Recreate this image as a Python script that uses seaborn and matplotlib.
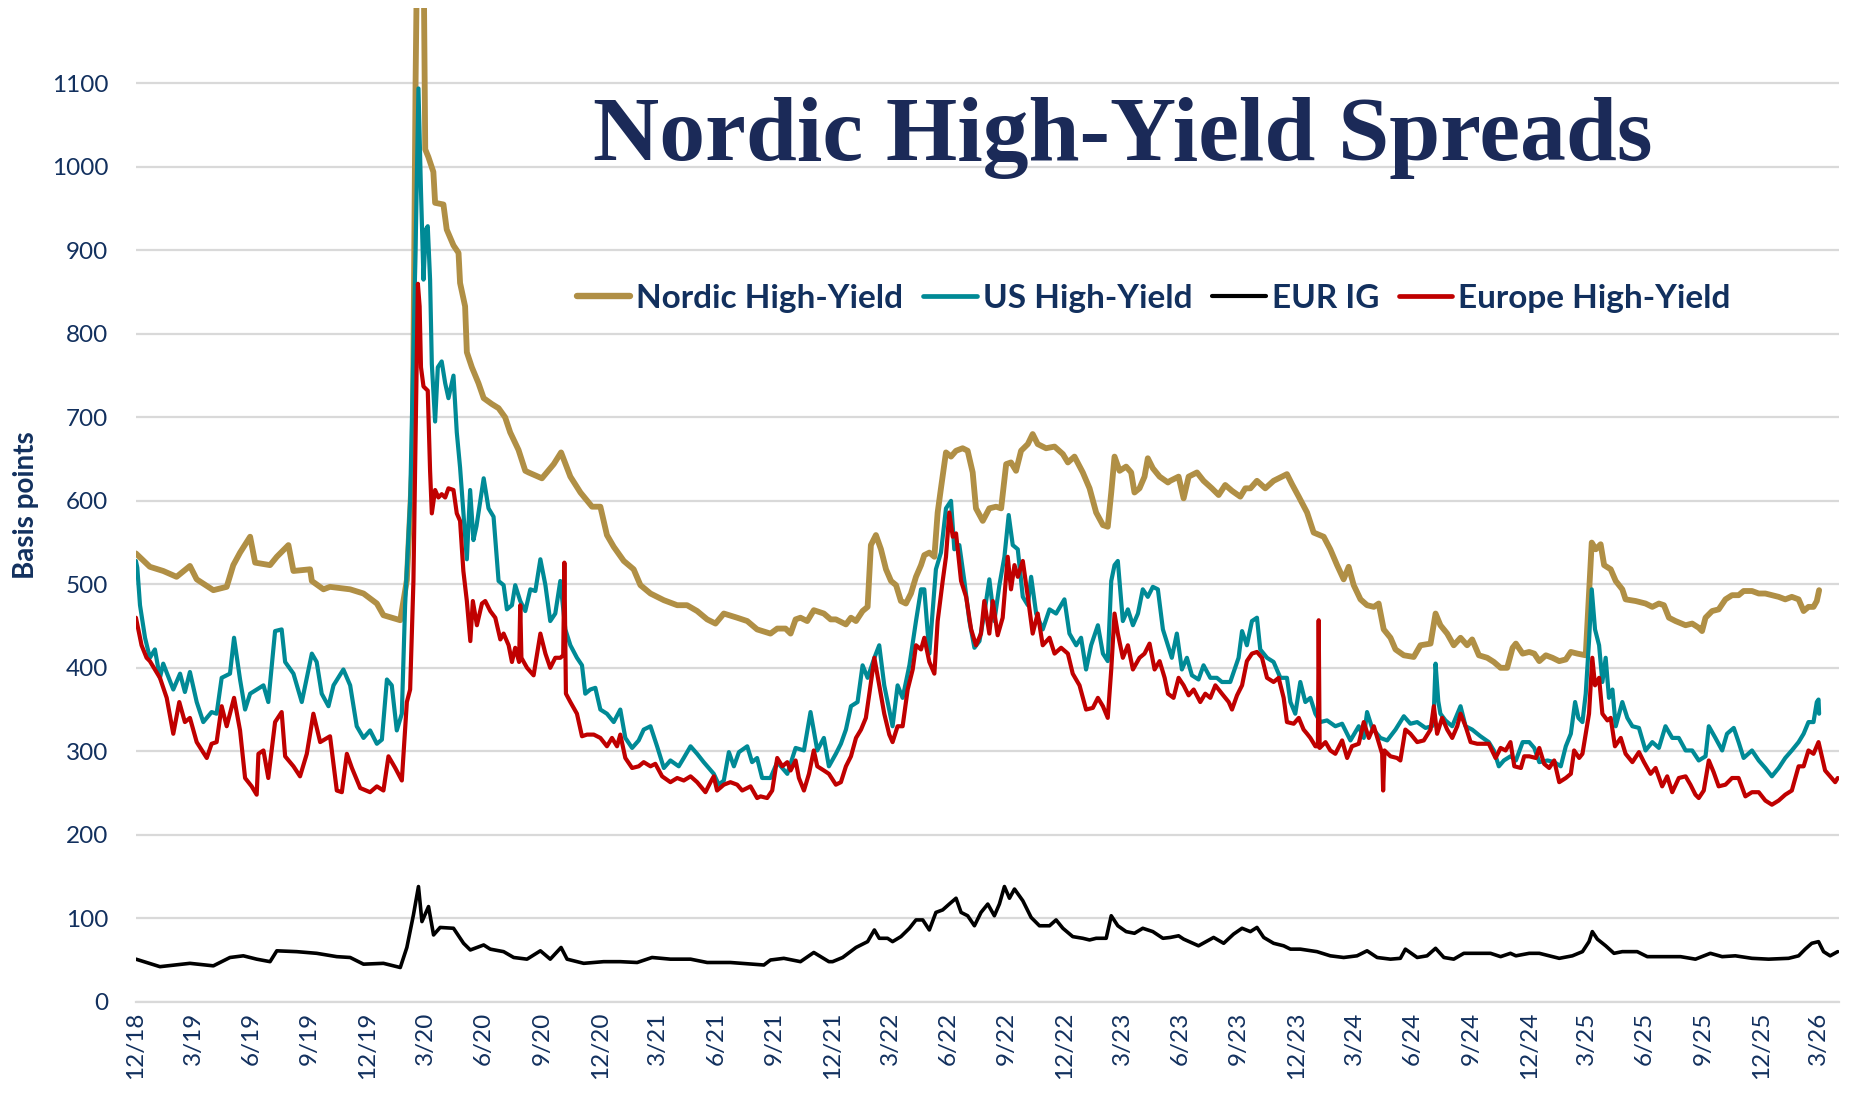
import numpy as np
import pandas as pd
import matplotlib
matplotlib.use("Agg")
import matplotlib.pyplot as plt
from matplotlib.lines import Line2D
import seaborn as sns

# ---------------------------------------------------------------
# Data: (months after 31 Dec 2018, basis points)
# ---------------------------------------------------------------
nordic_hy = [
    (0.0, 537), (0.72, 521), (1.41, 516), (2.10, 509), (2.79, 522), (3.14, 506), (4.0, 493),
    (4.69, 497), (5.03, 523), (5.38, 538), (5.90, 557), (6.16, 526), (6.93, 523), (7.28, 533),
    (7.88, 547), (8.14, 516), (9.0, 518), (9.09, 504), (9.69, 494), (10.03, 497), (11.07, 494),
    (11.76, 489), (12.45, 477), (12.79, 463), (13.66, 457), (14.0, 505), (14.30, 650),
    (14.45, 1100), (14.55, 1300), (14.85, 1300), (14.95, 1021), (15.11, 1012), (15.37, 994),
    (15.46, 957), (15.89, 955), (16.06, 925), (16.41, 906), (16.67, 897), (16.75, 861),
    (17.01, 833), (17.10, 778), (17.36, 760), (17.70, 741), (17.97, 723), (18.39, 716),
    (18.74, 711), (19.08, 700), (19.34, 682), (19.77, 661), (20.12, 636), (20.29, 634),
    (20.98, 627), (21.59, 644), (21.97, 658), (22.45, 629), (22.97, 610), (23.57, 593),
    (24.0, 593), (24.34, 559), (24.69, 545), (25.21, 528), (25.72, 518), (26.07, 499),
    (26.59, 489), (27.28, 481), (27.97, 475), (28.48, 475), (29.0, 468), (29.52, 458),
    (29.95, 453), (30.38, 465), (31.07, 460), (31.59, 456), (32.10, 446), (32.79, 441),
    (33.14, 447), (33.57, 447), (33.83, 441), (34.09, 458), (34.34, 460), (34.69, 456),
    (35.03, 469), (35.55, 465), (35.90, 458), (36.17, 458), (36.69, 452), (36.95, 460),
    (37.21, 456), (37.55, 468), (37.81, 473), (37.98, 547), (38.24, 559), (38.50, 542),
    (38.76, 518), (39.02, 504), (39.28, 499), (39.53, 480), (39.79, 477), (40.05, 489),
    (40.31, 509), (40.57, 523), (40.74, 535), (41.0, 538), (41.26, 533), (41.43, 586),
    (41.60, 615), (41.86, 658), (42.12, 653), (42.38, 660), (42.72, 663), (42.98, 660),
    (43.24, 634), (43.41, 591), (43.76, 576), (44.10, 591), (44.45, 593), (44.71, 591),
    (44.97, 644), (45.22, 646), (45.48, 636), (45.74, 660), (46.09, 668), (46.34, 680),
    (46.60, 668), (47.03, 663), (47.47, 665), (47.90, 656), (48.16, 646), (48.50, 653),
    (48.93, 634), (49.28, 615), (49.62, 586), (49.97, 571), (50.22, 569), (50.40, 610),
    (50.57, 653), (50.83, 636), (51.17, 641), (51.43, 634), (51.60, 610), (51.86, 615),
    (52.12, 629), (52.29, 651), (52.55, 639), (52.90, 629), (53.33, 622), (53.45, 624),
    (53.88, 629), (54.14, 603), (54.40, 629), (54.83, 634), (55.17, 624), (55.60, 615),
    (55.95, 607), (56.29, 619), (56.64, 612), (57.07, 605), (57.33, 615), (57.59, 615),
    (57.93, 624), (58.36, 615), (58.79, 624), (59.22, 629), (59.48, 632), (59.74, 620),
    (60.09, 605), (60.52, 586), (60.86, 562), (61.38, 557), (61.72, 542), (62.07, 523),
    (62.41, 506), (62.67, 521), (62.93, 499), (63.28, 482), (63.62, 475), (63.97, 473),
    (64.22, 477), (64.48, 446), (64.83, 436), (65.09, 422), (65.52, 415), (66.03, 413),
    (66.38, 427), (66.90, 429), (67.16, 465), (67.41, 451), (67.76, 441), (68.10, 427),
    (68.45, 436), (68.79, 427), (69.05, 434), (69.40, 415), (69.83, 412), (70.17, 407),
    (70.52, 400), (70.86, 400), (71.14, 424), (71.31, 429), (71.66, 417), (72.0, 419),
    (72.26, 417), (72.52, 408), (72.86, 415), (73.20, 412), (73.55, 408), (73.89, 410),
    (74.15, 419), (74.49, 417), (74.92, 415), (75.06, 475), (75.23, 550), (75.44, 542),
    (75.69, 548), (75.87, 523), (76.21, 518), (76.47, 504), (76.81, 494), (76.98, 482),
    (77.50, 480), (78.01, 477), (78.36, 473), (78.70, 477), (78.96, 475), (79.22, 460),
    (79.56, 456), (80.08, 451), (80.42, 453), (80.76, 448), (80.93, 444), (81.11, 460),
    (81.45, 468), (81.79, 470), (82.14, 482), (82.48, 487), (82.82, 487), (83.08, 492),
    (83.51, 492), (83.86, 489), (84.20, 489), (84.54, 487), (84.89, 485), (85.23, 482),
    (85.57, 485), (85.92, 482), (86.18, 468), (86.43, 473), (86.69, 473), (86.86, 480),
    (86.98, 493),
]

us_hy = [
    (0.0, 528), (0.07, 520), (0.21, 475), (0.47, 436), (0.72, 412), (0.98, 422), (1.24, 388),
    (1.41, 405), (1.93, 374), (2.28, 393), (2.53, 371), (2.79, 395), (3.14, 359), (3.48, 335),
    (3.91, 347), (4.17, 345), (4.43, 388), (4.86, 393), (5.07, 436), (5.38, 386), (5.64, 350),
    (5.90, 369), (6.59, 379), (6.84, 359), (7.19, 444), (7.53, 446), (7.71, 407), (8.14, 393),
    (8.57, 359), (9.09, 417), (9.34, 407), (9.60, 369), (9.95, 354), (10.21, 379), (10.72, 398),
    (11.07, 379), (11.41, 330), (11.76, 316), (12.10, 325), (12.45, 309), (12.71, 314),
    (12.97, 386), (13.22, 379), (13.48, 325), (13.74, 345), (13.91, 475), (14.17, 600),
    (14.45, 900), (14.60, 1094), (14.73, 971), (14.86, 865), (14.98, 925), (15.08, 929),
    (15.20, 865), (15.29, 764), (15.46, 695), (15.60, 760), (15.80, 767), (15.98, 741),
    (16.15, 723), (16.41, 750), (16.58, 682), (16.75, 640), (17.10, 530), (17.27, 613),
    (17.44, 553), (17.60, 570), (17.97, 627), (18.22, 591), (18.48, 581), (18.74, 504),
    (19.0, 499), (19.17, 470), (19.43, 475), (19.60, 499), (19.86, 480), (20.12, 468),
    (20.38, 494), (20.64, 492), (20.90, 530), (21.16, 499), (21.41, 456), (21.67, 465),
    (21.93, 504), (22.19, 446), (22.45, 427), (22.79, 412), (23.05, 403), (23.22, 369),
    (23.48, 374), (23.74, 376), (24.0, 350), (24.34, 345), (24.69, 335), (25.03, 350),
    (25.29, 316), (25.64, 304), (25.98, 313), (26.24, 326), (26.59, 330), (26.93, 306),
    (27.28, 280), (27.62, 289), (28.05, 282), (28.31, 292), (28.66, 306), (29.0, 297),
    (29.34, 287), (29.86, 273), (30.12, 260), (30.38, 265), (30.64, 299), (30.90, 282),
    (31.16, 299), (31.59, 306), (31.84, 287), (32.10, 292), (32.36, 268), (32.79, 268),
    (33.14, 287), (33.66, 273), (34.09, 304), (34.52, 301), (34.86, 347), (35.21, 301),
    (35.55, 316), (35.81, 282), (36.17, 297), (36.43, 309), (36.69, 326), (36.95, 354),
    (37.29, 359), (37.55, 403), (37.81, 388), (38.16, 412), (38.41, 427), (38.67, 379),
    (39.10, 330), (39.36, 379), (39.62, 364), (39.97, 403), (40.31, 456), (40.57, 494),
    (40.74, 494), (41.0, 417), (41.34, 518), (41.60, 538), (41.86, 591), (42.12, 600),
    (42.29, 542), (42.55, 547), (42.81, 504), (43.07, 456), (43.33, 424), (43.59, 432),
    (43.84, 465), (44.10, 506), (44.36, 456), (44.62, 499), (44.88, 533), (45.10, 583),
    (45.31, 547), (45.57, 542), (45.83, 485), (46.09, 475), (46.26, 509), (46.52, 465),
    (46.86, 446), (47.21, 470), (47.55, 465), (47.98, 482), (48.24, 441), (48.59, 427),
    (48.84, 436), (49.10, 398), (49.36, 427), (49.71, 451), (49.97, 417), (50.22, 408),
    (50.40, 504), (50.57, 523), (50.74, 528), (51.0, 456), (51.26, 470), (51.52, 451),
    (51.78, 465), (52.03, 494), (52.29, 485), (52.55, 497), (52.81, 494), (53.07, 446),
    (53.33, 427), (53.53, 412), (53.79, 441), (54.05, 398), (54.31, 412), (54.57, 391),
    (54.91, 386), (55.17, 403), (55.52, 388), (55.86, 388), (56.12, 383), (56.55, 383),
    (56.98, 412), (57.16, 444), (57.41, 427), (57.67, 456), (57.93, 460), (58.10, 422),
    (58.45, 412), (58.79, 407), (59.14, 388), (59.48, 388), (59.66, 359), (59.91, 345),
    (60.17, 383), (60.43, 359), (60.69, 364), (60.95, 345), (61.21, 335), (61.55, 337),
    (61.98, 330), (62.33, 333), (62.76, 313), (63.19, 330), (63.45, 316), (63.62, 347),
    (63.88, 328), (64.31, 316), (64.66, 313), (65.09, 326), (65.52, 342), (65.86, 333),
    (66.21, 335), (66.64, 328), (66.98, 330), (67.05, 335), (67.16, 405), (67.30, 360),
    (67.41, 345), (67.67, 337), (68.02, 330), (68.45, 354), (68.71, 330), (69.05, 326),
    (69.48, 318), (69.91, 311), (70.17, 301), (70.43, 282), (70.69, 289), (71.03, 294),
    (71.31, 289), (71.66, 311), (72.0, 311), (72.26, 304), (72.52, 287), (72.95, 289),
    (73.29, 287), (73.63, 282), (73.89, 306), (74.15, 321), (74.37, 359), (74.54, 340),
    (74.75, 335), (74.92, 369), (75.09, 432), (75.23, 494), (75.40, 446), (75.61, 427),
    (75.78, 383), (75.95, 412), (76.12, 364), (76.30, 374), (76.47, 330), (76.81, 359),
    (77.07, 340), (77.33, 330), (77.67, 328), (78.01, 301), (78.36, 311), (78.70, 304),
    (79.04, 330), (79.39, 316), (79.73, 316), (80.08, 301), (80.42, 301), (80.76, 289),
    (81.11, 294), (81.28, 330), (81.62, 316), (81.97, 301), (82.22, 321), (82.57, 328),
    (82.82, 311), (83.08, 292), (83.51, 301), (83.86, 289), (84.20, 280), (84.54, 270),
    (84.89, 280), (85.23, 292), (85.57, 301), (85.92, 311), (86.18, 321), (86.43, 335),
    (86.69, 335), (86.86, 359), (86.95, 362), (86.98, 345),
]

eur_ig = [
    (0.0, 51), (1.24, 42), (2.79, 46), (4.0, 43), (4.86, 53), (5.55, 55), (6.24, 51),
    (6.93, 48), (7.28, 61), (8.31, 60), (9.34, 58), (10.38, 54), (11.07, 53), (11.76, 45),
    (12.79, 46), (13.66, 41), (14.0, 65), (14.34, 104), (14.60, 138), (14.78, 96),
    (15.12, 114), (15.38, 80), (15.72, 89), (16.41, 88), (16.93, 70), (17.28, 62),
    (17.97, 68), (18.31, 63), (19.0, 60), (19.52, 53), (20.21, 51), (20.90, 61), (21.41, 51),
    (21.97, 65), (22.28, 51), (23.14, 46), (24.17, 48), (25.03, 48), (25.90, 47), (26.67, 53),
    (27.62, 51), (28.66, 51), (29.52, 47), (30.72, 47), (32.45, 44), (32.79, 50), (33.48, 52),
    (34.34, 48), (35.03, 59), (35.81, 48), (36.0, 48), (36.52, 53), (37.21, 65), (37.81, 72),
    (38.16, 86), (38.41, 76), (38.84, 76), (39.10, 72), (39.53, 78), (39.97, 88), (40.31, 98),
    (40.66, 98), (41.0, 86), (41.34, 107), (41.69, 110), (42.03, 117), (42.38, 124),
    (42.64, 107), (42.98, 103), (43.33, 91), (43.67, 107), (44.02, 117), (44.36, 103),
    (44.62, 117), (44.88, 138), (45.14, 124), (45.40, 135), (45.83, 121), (46.26, 101),
    (46.69, 91), (47.21, 91), (47.55, 98), (47.90, 88), (48.41, 78), (48.93, 76), (49.28, 74),
    (49.62, 76), (50.14, 76), (50.40, 103), (50.74, 91), (51.17, 84), (51.60, 82), (52.03, 88),
    (52.55, 84), (53.07, 76), (53.45, 77), (53.88, 79), (54.14, 75), (54.91, 67), (55.69, 77),
    (56.21, 70), (56.72, 81), (57.16, 88), (57.59, 84), (57.93, 89), (58.28, 77), (58.79, 70),
    (59.31, 67), (59.66, 63), (60.17, 63), (61.03, 60), (61.72, 55), (62.41, 53), (63.10, 55),
    (63.62, 61), (64.14, 53), (64.83, 51), (65.34, 52), (65.60, 63), (66.21, 53), (66.72, 55),
    (67.16, 64), (67.59, 53), (68.10, 51), (68.62, 58), (69.31, 58), (70.0, 58), (70.52, 54),
    (71.03, 58), (71.31, 55), (72.0, 58), (72.52, 58), (73.03, 55), (73.55, 52), (74.23, 55),
    (74.75, 60), (75.09, 72), (75.26, 84), (75.52, 75), (75.95, 67), (76.38, 58), (76.81, 60),
    (77.58, 60), (78.10, 54), (79.04, 54), (79.82, 54), (80.59, 51), (81.36, 58), (81.97, 54),
    (82.65, 55), (83.51, 52), (84.37, 51), (85.40, 52), (85.92, 55), (86.26, 63), (86.60, 70),
    (86.95, 72), (87.21, 60), (87.55, 55), (87.94, 60),
]

europe_hy = [
    (0.0, 460), (0.29, 427), (0.55, 412), (0.72, 408), (0.98, 398), (1.24, 388), (1.59, 364),
    (1.93, 321), (2.24, 359), (2.53, 335), (2.79, 340), (3.14, 311), (3.66, 292), (3.91, 309),
    (4.17, 311), (4.43, 354), (4.69, 330), (5.07, 364), (5.38, 325), (5.64, 268), (5.98, 258),
    (6.24, 248), (6.33, 297), (6.59, 301), (6.84, 268), (7.19, 335), (7.53, 347), (7.71, 294),
    (8.14, 282), (8.48, 270), (8.83, 297), (9.17, 345), (9.52, 311), (10.03, 318), (10.38, 253),
    (10.64, 251), (10.90, 297), (11.16, 280), (11.59, 256), (12.10, 251), (12.45, 258),
    (12.79, 253), (13.05, 294), (13.40, 280), (13.74, 265), (14.0, 359), (14.17, 374),
    (14.34, 504), (14.57, 860), (14.66, 833), (14.73, 760), (14.86, 737), (15.08, 732),
    (15.20, 636), (15.29, 585), (15.46, 613), (15.63, 604), (15.80, 608), (15.98, 604),
    (16.15, 615), (16.41, 613), (16.58, 585), (16.75, 576), (16.92, 516), (17.10, 480),
    (17.28, 432), (17.41, 480), (17.62, 451), (17.88, 477), (18.05, 480), (18.31, 468),
    (18.57, 460), (18.83, 434), (19.0, 441), (19.26, 427), (19.43, 407), (19.60, 424),
    (19.80, 407), (19.86, 475), (19.92, 412), (20.21, 400), (20.55, 391), (20.90, 441),
    (21.16, 417), (21.41, 400), (21.67, 412), (21.93, 412), (22.08, 415), (22.14, 526),
    (22.22, 369), (22.45, 359), (22.79, 345), (23.05, 318), (23.31, 320), (23.66, 320),
    (24.0, 316), (24.34, 306), (24.60, 316), (24.86, 306), (25.03, 320), (25.29, 292),
    (25.64, 280), (25.98, 282), (26.24, 287), (26.59, 282), (26.84, 285), (27.19, 270),
    (27.62, 263), (27.97, 268), (28.31, 265), (28.66, 270), (29.0, 263), (29.43, 251),
    (29.69, 263), (29.86, 270), (30.03, 253), (30.38, 260), (30.72, 263), (31.07, 260),
    (31.33, 253), (31.76, 258), (32.10, 244), (32.28, 246), (32.62, 244), (32.88, 253),
    (33.14, 292), (33.40, 282), (33.66, 287), (33.83, 277), (34.09, 289), (34.26, 268),
    (34.52, 253), (34.78, 273), (35.03, 301), (35.21, 282), (35.55, 277), (35.81, 273),
    (36.17, 260), (36.43, 263), (36.69, 282), (36.95, 294), (37.21, 316), (37.47, 326),
    (37.72, 340), (37.90, 369), (38.16, 412), (38.41, 379), (38.67, 345), (38.93, 320),
    (39.10, 311), (39.36, 330), (39.62, 330), (39.88, 374), (40.14, 398), (40.31, 427),
    (40.57, 422), (40.74, 436), (41.0, 407), (41.26, 393), (41.43, 456), (41.69, 504),
    (41.86, 533), (42.03, 586), (42.21, 557), (42.38, 561), (42.64, 504), (42.90, 485),
    (43.16, 446), (43.41, 427), (43.67, 441), (43.84, 480), (44.10, 441), (44.28, 480),
    (44.53, 439), (44.79, 460), (45.05, 533), (45.22, 494), (45.40, 523), (45.57, 509),
    (45.83, 528), (46.09, 485), (46.34, 441), (46.60, 465), (46.86, 427), (47.21, 436),
    (47.47, 417), (47.81, 424), (48.16, 417), (48.41, 393), (48.76, 379), (49.10, 350),
    (49.45, 352), (49.71, 364), (49.97, 354), (50.22, 340), (50.40, 398), (50.57, 465),
    (50.74, 441), (51.0, 412), (51.26, 427), (51.52, 398), (51.86, 412), (52.12, 417),
    (52.38, 429), (52.64, 398), (52.90, 408), (53.16, 388), (53.33, 369), (53.62, 364),
    (53.88, 388), (54.14, 379), (54.40, 367), (54.66, 374), (55.0, 359), (55.26, 369),
    (55.52, 364), (55.78, 379), (56.12, 369), (56.47, 359), (56.64, 350), (56.90, 367),
    (57.16, 379), (57.41, 408), (57.67, 417), (57.93, 419), (58.19, 412), (58.45, 388),
    (58.79, 383), (59.05, 388), (59.31, 364), (59.48, 335), (59.83, 333), (60.09, 340),
    (60.34, 326), (60.52, 321), (60.69, 316), (60.95, 306), (61.08, 306), (61.12, 457),
    (61.17, 304), (61.47, 311), (61.72, 301), (61.98, 297), (62.33, 313), (62.59, 292),
    (62.84, 306), (63.19, 309), (63.45, 335), (63.71, 316), (63.97, 330), (64.22, 311),
    (64.40, 297), (64.45, 253), (64.52, 301), (64.83, 294), (65.17, 292), (65.34, 289),
    (65.60, 326), (65.86, 321), (66.21, 311), (66.55, 313), (66.90, 326), (67.07, 354),
    (67.24, 321), (67.50, 340), (67.76, 326), (68.02, 316), (68.28, 330), (68.45, 345),
    (68.71, 330), (68.97, 311), (69.31, 309), (69.66, 309), (69.91, 309), (70.26, 292),
    (70.52, 304), (70.78, 301), (71.03, 311), (71.23, 282), (71.57, 280), (71.74, 294),
    (72.0, 294), (72.34, 292), (72.52, 304), (72.77, 285), (73.03, 280), (73.29, 289),
    (73.55, 263), (73.89, 268), (74.15, 273), (74.32, 301), (74.58, 292), (74.75, 297),
    (74.92, 321), (75.09, 345), (75.26, 412), (75.40, 379), (75.61, 388), (75.78, 345),
    (76.04, 337), (76.21, 340), (76.43, 306), (76.73, 316), (76.98, 297), (77.33, 287),
    (77.67, 299), (77.93, 287), (78.27, 273), (78.53, 280), (78.87, 258), (79.13, 270),
    (79.39, 251), (79.73, 268), (80.08, 270), (80.33, 260), (80.59, 248), (80.76, 244),
    (81.02, 253), (81.28, 289), (81.53, 275), (81.79, 258), (82.14, 260), (82.48, 268),
    (82.82, 268), (83.17, 246), (83.51, 251), (83.86, 251), (84.20, 241), (84.54, 236),
    (84.89, 241), (85.23, 248), (85.57, 253), (85.92, 282), (86.18, 282), (86.43, 301),
    (86.69, 297), (86.95, 311), (87.12, 294), (87.29, 277), (87.55, 270), (87.81, 263),
    (87.94, 268),
]

series_names = ["Nordic High-Yield", "US High-Yield", "EUR IG", "Europe High-Yield"]
series_points = [nordic_hy, us_hy, eur_ig, europe_hy]
y_ticks = list(range(0, 1101, 100))

# ---------------------------------------------------------------
colors = ["#B08F45", "#008A96", "#000000", "#C00000"]
linewidths = [4.2, 3.0, 2.6, 3.0]
navy = "#12305E"
grid_grey = "#D9D9D9"

sns.set_theme(style="white")
plt.rcParams["font.family"] = ["Lato", "DejaVu Sans"]

base = pd.Timestamp("2018-12-31")
DAYS_PER_MONTH = 30.4375

frames = []
for name, pts in zip(series_names, series_points):
    months, bp = zip(*pts)
    dates = base + pd.to_timedelta(np.asarray(months) * DAYS_PER_MONTH, unit="D")
    frames.append(pd.DataFrame({"date": dates, "bp": bp, "series": name}))
df = pd.concat(frames, ignore_index=True)

fig = plt.figure(figsize=(18.52, 10.93), dpi=100)
ax = fig.add_axes([0.0734, 0.0835, 0.9195, 0.9089])

for name, c, lw in zip(series_names, colors, linewidths):
    sns.lineplot(data=df[df["series"] == name], x="date", y="bp", color=c,
                 linewidth=lw, ax=ax, estimator=None, sort=False, legend=False,
                 solid_joinstyle="round", solid_capstyle="round")

tick_dates = [base + pd.DateOffset(months=3 * i) for i in range(30)]
tick_labels = [f"{d.month}/{d.year % 100:02d}" for d in tick_dates]
ax.set_xticks(tick_dates)
ax.set_xticklabels(tick_labels)
ax.set_xlim(base, base + pd.Timedelta(days=88 * DAYS_PER_MONTH))
ax.set_ylim(0, 1190)
ax.set_yticks(y_ticks)
ax.set_xlabel("")
ax.set_ylabel("")

for side in ["left", "right", "top"]:
    ax.spines[side].set_visible(False)
ax.spines["bottom"].set_color(grid_grey)
ax.spines["bottom"].set_linewidth(1.6)
ax.grid(axis="y", color=grid_grey, linewidth=1.6)
ax.grid(axis="x", visible=False)
ax.set_axisbelow(True)

ax.tick_params(axis="x", direction="inout", length=12, width=1.6, color=grid_grey,
               labelcolor=navy, labelsize=17.5, pad=1, labelrotation=90)
ax.tick_params(axis="y", length=0, pad=20, labelcolor=navy, labelsize=17.5)

fig.text(0.606, 0.854, "Nordic High-Yield Spreads", family=["Liberation Serif"],
         weight="bold", size=66, color="#1B2A58", ha="center", va="baseline")

fig.text(0.014, 0.538, "Basis points", rotation=90, weight="bold", size=20,
         color=navy, ha="center", va="center")

handles = [Line2D([], [], color=c, linewidth=lw + 0.4, solid_capstyle="round")
           for c, lw in zip(colors, linewidths)]
leg = fig.legend(handles, series_names, loc="center", bbox_to_anchor=(0.623, 0.727),
                 ncol=4, frameon=False, handlelength=1.6, handletextpad=0.18,
                 columnspacing=0.6, prop={"family": "Lato", "weight": "bold", "size": 24})
for t in leg.get_texts():
    t.set_color(navy)

fig.savefig("out.png", dpi=100)
